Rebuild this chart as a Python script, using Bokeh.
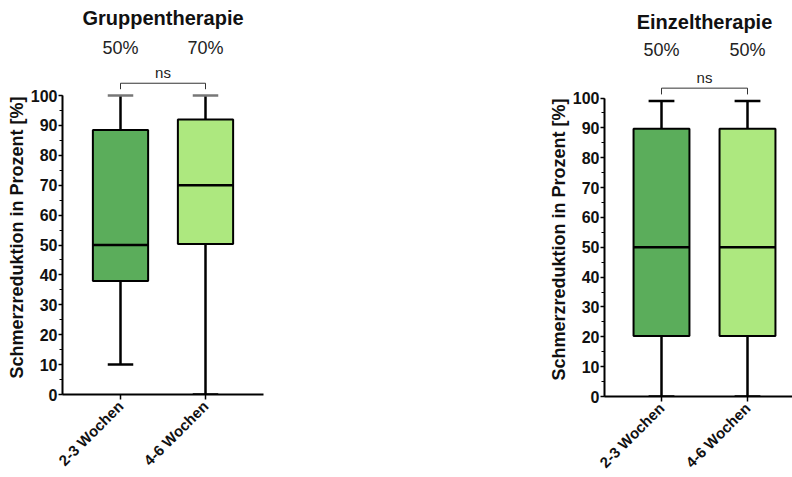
import math
from bokeh.plotting import figure
from bokeh.layouts import row
from bokeh.models import FixedTicker, SingleIntervalTicker, Range1d, ColumnDataSource, Title
from bokeh.core.properties import value
from bokeh.embed import file_html
from bokeh.resources import INLINE

# Group labels (x axis) and five-number summaries per panel
groups = ["2-3 Wochen", "4-6 Wochen"]
positions = [1, 2]

grp_title = "Gruppentherapie"
grp_min = [10, 0]
grp_q1 = [38, 50.3]
grp_med = [50, 70]
grp_q3 = [88.5, 92]
grp_max = [100, 100]
grp_pct = ["50%", "70%"]

ein_title = "Einzeltherapie"
ein_min = [0, 0]
ein_q1 = [20.3, 20.3]
ein_med = [50, 50]
ein_q3 = [89.7, 89.7]
ein_max = [99, 99]
ein_pct = ["50%", "50%"]

box_colors = ["#5BAD5B", "#ADE87F"]
FONT = "Liberation Sans"
Y_LABEL = "Schmerzreduktion in Prozent [%]"


def panel(title, mins, q1, med, q3, maxs, pct, x_range, frame_w, frame_h,
          border_left, border_right, ypx, top_cap_color, label_offset,
          y_title, y_pct, y_ns, y_br_top, y_br_bot):
    p = figure(title=None, output_backend="svg", toolbar_location=None,
               x_range=Range1d(*x_range), y_range=Range1d(0, frame_h / ypx),
               frame_width=frame_w, frame_height=frame_h,
               min_border_left=border_left, min_border_right=border_right,
               min_border_top=0, min_border_bottom=477 - frame_h)
    p.outline_line_color = None
    p.grid.visible = False
    p.background_fill_color = "white"
    p.border_fill_color = "white"

    cap = 0.3
    bw = 0.65
    src = ColumnDataSource(dict(x=positions, lo=mins, q1=q1, med=med, q3=q3,
                                hi=maxs, color=box_colors, pct=pct,
                                ypct=[y_pct] * len(positions),
                                cl=[x - cap / 2 for x in positions],
                                cr=[x + cap / 2 for x in positions],
                                bl=[x - bw / 2 for x in positions],
                                br=[x + bw / 2 for x in positions]))
    # whiskers
    p.segment(x0="x", y0="q3", x1="x", y1="hi", source=src, line_color="black", line_width=2.5)
    p.segment(x0="x", y0="lo", x1="x", y1="q1", source=src, line_color="black", line_width=2.5)
    p.segment(x0="cl", y0="hi", x1="cr", y1="hi", source=src,
              line_color=top_cap_color, line_width=2.5)
    p.segment(x0="cl", y0="lo", x1="cr", y1="lo", source=src,
              line_color="black", line_width=2.5)
    # boxes
    p.vbar(x="x", width=bw, bottom="q1", top="q3", fill_color="color", line_color="black",
           line_width=2, source=src)
    p.segment(x0="bl", y0="med", x1="br", y1="med", source=src,
              line_color="black", line_width=2.5)

    # significance bracket
    p.line(x=[1, 1, 2, 2], y=[y_br_bot, y_br_top, y_br_top, y_br_bot],
           line_color="#333333", line_width=1)
    p.text(x=[1.5], y=[y_ns], text=["ns"], text_font=value(FONT), text_font_size="15px",
           text_align="center", text_baseline="middle", text_color="#222222")
    # percentages above groups
    p.text(x="x", y="ypct", text="pct", source=src, text_font=value(FONT),
           text_font_size="18px", text_align="center", text_baseline="middle",
           text_color="#222222")
    # panel title
    p.text(x=[1.5], y=[y_title], text=[title], text_font=value(FONT), text_font_size="20px",
           text_font_style="bold", text_align="center", text_baseline="middle",
           text_color="#111111")

    # y axis title, started from the bottom so it sits on the 0-100 span
    p.add_layout(Title(text=Y_LABEL, align="left", offset=label_offset, standoff=2,
                       text_font=FONT, text_font_size="18px", text_font_style="bold",
                       text_color="#111111"), "left")

    # axes
    ya = p.yaxis[0]
    ya.ticker = SingleIntervalTicker(interval=10, num_minor_ticks=2)
    ya.bounds = (0, 100)
    ya.major_label_text_font = FONT
    ya.major_label_text_font_size = "16px"
    ya.major_label_text_font_style = "bold"
    ya.major_label_text_color = "#111111"
    ya.major_label_standoff = 1
    ya.axis_line_width = 2
    ya.major_tick_line_width = 1.5
    ya.major_tick_in = 0
    ya.major_tick_out = 4
    ya.minor_tick_in = 0
    ya.minor_tick_out = 3
    ya.minor_tick_line_width = 1

    xa = p.xaxis[0]
    xa.ticker = FixedTicker(ticks=positions)
    xa.major_label_overrides = {x: g for x, g in zip(positions, groups)}
    xa.major_label_orientation = math.pi / 4
    xa.major_label_text_font = FONT
    xa.major_label_text_font_size = "15px"
    xa.major_label_text_font_style = "bold"
    xa.major_label_text_color = "#111111"
    xa.major_label_standoff = 4
    xa.axis_line_width = 2
    xa.major_tick_line_width = 1.5
    xa.major_tick_in = 0
    xa.major_tick_out = 5
    xa.minor_tick_line_color = None
    return p


left = panel(grp_title, grp_min, grp_q1, grp_med, grp_q3, grp_max, grp_pct,
             x_range=(1 - 58 / 85, 1 - 58 / 85 + 201 / 85), frame_w=201, frame_h=394,
             border_left=62, border_right=277, ypx=2.99, top_cap_color="#777777",
             label_offset=16,
             y_title=125.8, y_pct=116.0, y_ns=107.8, y_br_top=104.1, y_br_bot=102.1)

right = panel(ein_title, ein_min, ein_q1, ein_med, ein_q3, ein_max, ein_pct,
              x_range=(1 - 57 / 86, 1 - 57 / 86 + 188 / 86), frame_w=188, frame_h=396,
              border_left=64, border_right=0, ypx=2.985, top_cap_color="black",
              label_offset=16,
              y_title=125.3, y_pct=116.0, y_ns=107.0, y_br_top=103.3, y_br_bot=101.2)

layout = row(left, right)
open("out.html", "w").write(file_html(layout, INLINE))
